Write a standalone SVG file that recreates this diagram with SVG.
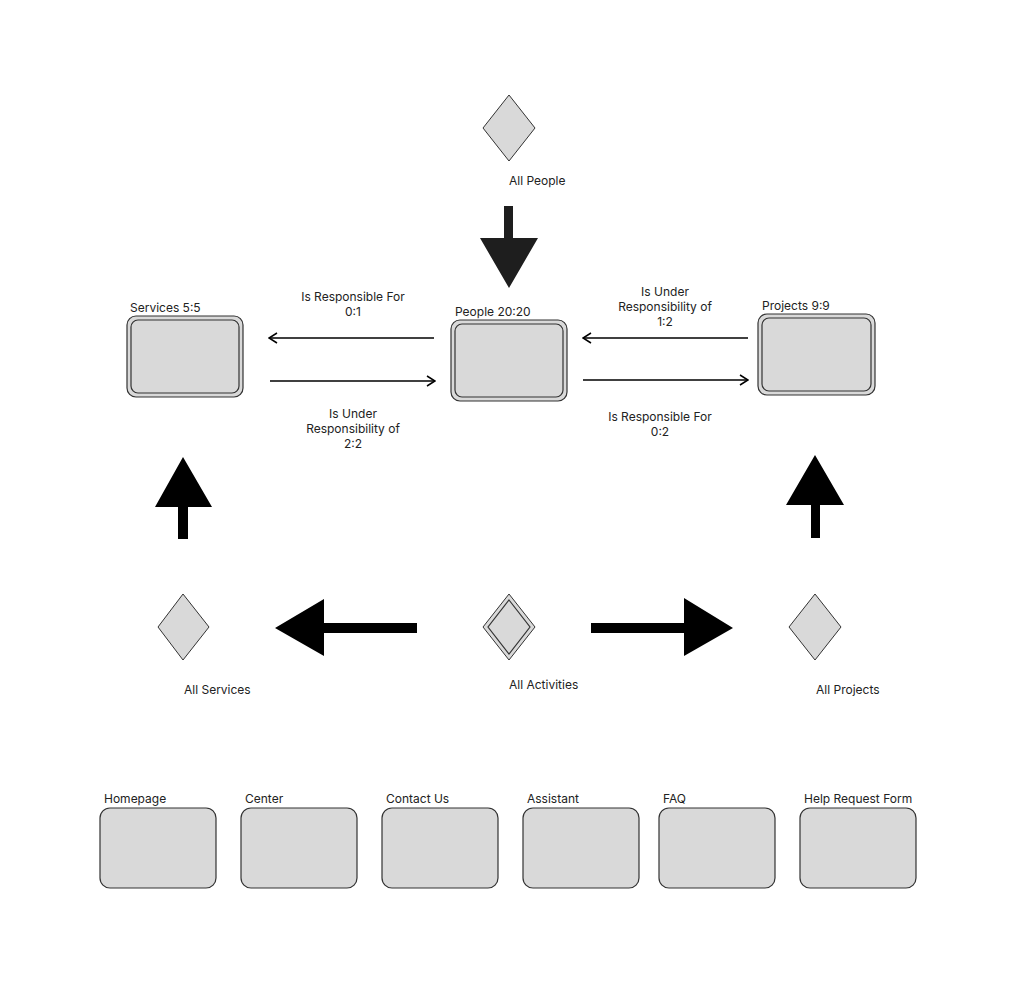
<svg xmlns="http://www.w3.org/2000/svg" width="1020" height="989" viewBox="0 0 1020 989">
<defs>
<style>
text{font-family:Inter,"Liberation Sans",sans-serif;font-size:12px;fill:#222}
.c{text-anchor:middle}
.box{fill:#d9d9d9;stroke:#333;stroke-width:1.2}
.inner{fill:none;stroke:#333;stroke-width:1.2}
.dia{fill:#d9d9d9;stroke:#333;stroke-width:1}
.ln{stroke:#000;stroke-width:1.5;fill:none}
.big{fill:#000}
</style>
<marker id="open" viewBox="0 0 10 12" refX="9" refY="6" markerWidth="10" markerHeight="12" markerUnits="userSpaceOnUse" orient="auto">
<path d="M1,1 L9,6 L1,11" fill="none" stroke="#000" stroke-width="1.5"/>
</marker>
</defs>
<rect width="1020" height="989" fill="#fff"/>

<g id="services">
<rect class="box" x="127" y="316" width="116" height="81" rx="9"/>
<rect class="inner" x="131" y="320" width="108" height="73" rx="7"/>
<text x="130" y="312">Services 5:5</text>
</g>
<g id="people">
<rect class="box" x="451" y="320" width="116" height="81" rx="9"/>
<rect class="inner" x="455" y="324" width="108" height="73" rx="7"/>
<text x="455" y="316">People 20:20</text>
</g>
<g id="projects">
<rect class="box" x="758" y="314" width="117" height="81" rx="9"/>
<rect class="inner" x="762" y="318" width="109" height="73" rx="7"/>
<text x="762" y="310">Projects 9:9</text>
</g>

<g id="all-people">
<polygon class="dia" points="509,95 535,128 509,161 483,128"/>
<text x="509" y="185">All People</text>
</g>
<g id="all-services">
<polygon class="dia" points="183,594 209,627 183,660 158,627"/>
<text x="184" y="694">All Services</text>
</g>
<g id="all-activities">
<polygon class="dia" points="509,594 535,627 509,660 483,627"/>
<polygon class="inner" points="509,600 530,627 509,654 488,627"/>
<text x="509" y="689">All Activities</text>
</g>
<g id="all-projects">
<polygon class="dia" points="815,594 841,627 815,660 789,627"/>
<text x="816" y="694">All Projects</text>
</g>

<g id="homepage"><rect class="box" x="100" y="808" width="116" height="80" rx="10"/><text x="104" y="803">Homepage</text></g>
<g id="center"><rect class="box" x="241" y="808" width="116" height="80" rx="10"/><text x="245" y="803">Center</text></g>
<g id="contact-us"><rect class="box" x="382" y="808" width="116" height="80" rx="10"/><text x="386" y="803">Contact Us</text></g>
<g id="assistant"><rect class="box" x="523" y="808" width="116" height="80" rx="10"/><text x="527" y="803">Assistant</text></g>
<g id="faq"><rect class="box" x="659" y="808" width="116" height="80" rx="10"/><text x="663" y="803">FAQ</text></g>
<g id="help-request-form"><rect class="box" x="800" y="808" width="116" height="80" rx="10"/><text x="804" y="803">Help Request Form</text></g>

<g id="connectors">
<line class="ln" x1="434" y1="338" x2="269" y2="338" marker-end="url(#open)"/>
<line class="ln" x1="270" y1="381" x2="435" y2="381" marker-end="url(#open)"/>
<line class="ln" x1="748" y1="338" x2="583" y2="338" marker-end="url(#open)"/>
<line class="ln" x1="583" y1="380" x2="748" y2="380" marker-end="url(#open)"/>
<polygon fill="#1e1e1e" points="504,206 513,206 513,238 538,238 509,288 480,238 504,238"/>
<polygon class="big" points="178,539 188,539 188,507 212,507 183,457 155,507 178,507"/>
<polygon class="big" points="811,538 820,538 820,505 844,505 815,455 786,505 811,505"/>
<polygon class="big" points="417,623 417,633 324,633 324,656 275,628 324,599 324,623"/>
<polygon class="big" points="591,623 684,623 684,598 733,628 684,656 684,633 591,633"/>
<text class="c" x="353" y="301">Is Responsible For</text>
<text class="c" x="353" y="316">0:1</text>
<text class="c" x="353" y="418">Is Under</text>
<text class="c" x="353" y="433">Responsibility of</text>
<text class="c" x="353" y="448">2:2</text>
<text class="c" x="665" y="296">Is Under</text>
<text class="c" x="665" y="311">Responsibility of</text>
<text class="c" x="665" y="326">1:2</text>
<text class="c" x="660" y="421">Is Responsible For</text>
<text class="c" x="660" y="436">0:2</text>
</g>
</svg>
